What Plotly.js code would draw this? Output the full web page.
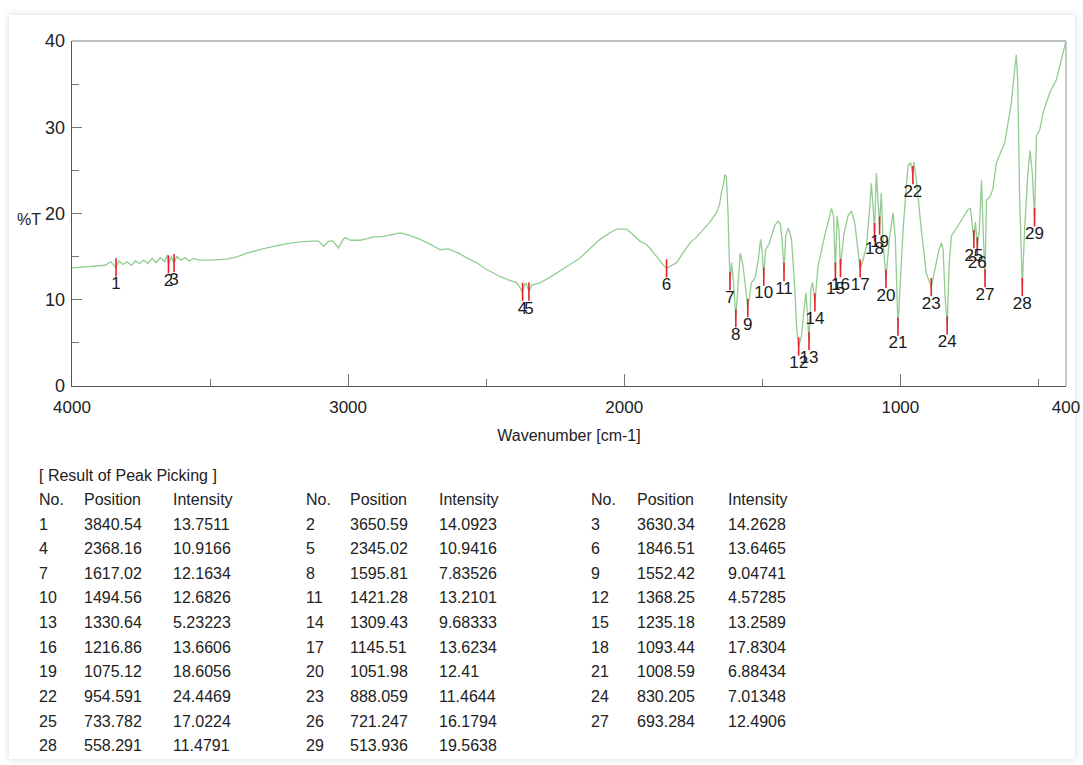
<!DOCTYPE html>
<html>
<head>
<meta charset="utf-8">
<script src="https://cdn.plot.ly/plotly-3.0.1.min.js"></script>
<style>
  html, body { margin: 0; padding: 0; background: #ffffff; }
  #frame { position: absolute; left: 9px; top: 15px; width: 1066px; height: 744px;
           box-shadow: 0 0 7px rgba(0,0,0,0.16); background: #ffffff; }
  #chart { position: absolute; left: 0; top: 0; width: 1083px; height: 765px; }
</style>
</head>
<body>
<div id="frame"></div>
<div id="chart"></div>
<script>
// ---- Spectrum (wavenumber in cm-1, %T) ----
const wavenumber = [
  4000, 3960, 3920, 3880, 3860, 3850, 3840.54, 3830, 3815, 3800, 3785, 3770, 3755, 3740, 3725, 3710,
  3695, 3680, 3665, 3655, 3650.59, 3640, 3630.34, 3620, 3605, 3590, 3575, 3560, 3540, 3500, 3470, 3439,
  3400, 3367, 3320, 3270, 3220, 3174, 3130, 3107, 3089, 3070, 3055, 3035, 3020, 3011, 2990, 2957,
  2930, 2908, 2880, 2850, 2812, 2780, 2739, 2700, 2667, 2637, 2600, 2570, 2530, 2498, 2450, 2420,
  2389, 2368.16, 2360, 2355, 2345.02, 2335, 2305, 2270, 2233, 2200, 2160, 2120, 2088, 2050, 2027, 1991,
  1967, 1950, 1943, 1920, 1907, 1890, 1871, 1855, 1846.51, 1830, 1810, 1790, 1762, 1740, 1714, 1690,
  1666, 1655, 1648, 1640, 1636, 1630, 1624, 1620, 1617.02, 1611, 1604, 1595.81, 1588, 1580, 1570, 1560,
  1552.42, 1539, 1533, 1525, 1515, 1506, 1500, 1494.56, 1488, 1475, 1467, 1455, 1443, 1435, 1428, 1421.28,
  1415, 1406, 1400, 1394, 1382, 1375, 1368.25, 1358, 1350, 1342, 1336, 1330.64, 1324, 1318, 1309.43, 1298,
  1274, 1249, 1242, 1235.18, 1229, 1222, 1216.86, 1205, 1190, 1177, 1165, 1155, 1145.51, 1135, 1123, 1110,
  1105, 1098, 1093.44, 1087, 1080, 1075.12, 1069, 1062, 1051.98, 1040, 1026, 1018, 1008.59, 998, 990, 980,
  972, 963, 954.591, 951, 942, 924, 906, 888.059, 875, 860, 851, 845, 838, 830.205, 823, 815,
  785, 755, 746, 733.782, 728, 721.247, 714, 706, 700, 693.284, 688, 676, 665, 652, 622, 598,
  585, 580, 575, 568, 558.291, 550, 538, 530, 522, 513.936, 507, 495, 483, 459, 435, 417, 400
];
const transmittance = [
  13.7, 13.8, 13.9, 14.0, 14.4, 14.0, 13.7511, 14.5, 14.1, 14.4, 14.0, 14.5, 14.2, 14.6, 14.2, 14.8,
  14.3, 14.9, 14.4, 15.2, 14.0923, 15.0, 14.2628, 15.0, 14.6, 14.9, 14.5, 14.8, 14.6, 14.6, 14.65, 14.7,
  15.0, 15.4, 15.8, 16.2, 16.5, 16.7, 16.8, 16.8, 16.2, 16.8, 16.8, 16.0, 16.9, 17.2, 16.9, 16.9,
  17.1, 17.3, 17.3, 17.5, 17.75, 17.5, 17.0, 16.4, 15.8, 15.9, 15.4, 14.85, 14.2, 13.5, 12.7, 12.3,
  11.96, 10.9166, 11.8, 11.9, 10.9416, 11.7, 11.96, 12.6, 13.3, 14.0, 14.85, 16.0, 17.0, 17.8, 18.2, 18.2,
  17.55, 17.1, 16.8, 16.4, 16.0, 15.3, 14.5, 13.9, 13.6465, 13.9, 14.3, 15.3, 16.6, 17.2, 18.1, 19.0,
  20.1, 21.0, 22.4, 23.5, 24.5, 24.2, 20.0, 15.0, 12.1634, 14.3, 12.0, 7.83526, 12.0, 15.4, 14.0, 11.0,
  9.04741, 12.0, 12.2, 12.7, 14.5, 17.0, 15.5, 12.6826, 15.8, 16.5, 17.4, 18.6, 19.1, 18.8, 17.0, 13.2101,
  17.4, 18.3, 17.8, 17.0, 11.2, 6.5, 4.57285, 5.8, 8.5, 10.8, 8.0, 5.23223, 11.2, 12.0, 9.68333, 13.9,
  17.4, 20.6, 19.7, 13.2589, 19.7, 18.0, 13.6606, 17.5, 19.7, 20.3, 18.9, 16.0, 13.6234, 14.6, 16.2, 21.0,
  23.5, 20.5, 17.8304, 24.7, 21.5, 18.6056, 22.4, 16.5, 12.41, 17.0, 20.1, 17.0, 6.88434, 14.0, 18.1, 22.5,
  25.5, 25.9, 24.4469, 26.0, 23.9, 18.1, 13.1, 11.4644, 13.5, 15.8, 16.6, 15.8, 10.4, 7.01348, 14.3, 17.4,
  18.9, 20.45, 20.6, 17.0224, 19.0, 16.1794, 18.0, 23.9, 18.0, 12.4906, 21.6, 21.9, 22.8, 25.9, 28.2, 32.8,
  37.0, 38.4, 35.5, 22.0, 11.4791, 18.1, 24.7, 27.3, 24.7, 19.5638, 28.95, 29.7, 31.7, 34.0, 35.5, 37.8, 40.0
];

// ---- Peak picking result ----
const peakNo = [1,2,3,4,5,6,7,8,9,10,11,12,13,14,15,16,17,18,19,20,21,22,23,24,25,26,27,28,29];
const peakPosition = ["3840.54","3650.59","3630.34","2368.16","2345.02","1846.51","1617.02","1595.81","1552.42",
  "1494.56","1421.28","1368.25","1330.64","1309.43","1235.18","1216.86","1145.51","1093.44","1075.12",
  "1051.98","1008.59","954.591","888.059","830.205","733.782","721.247","693.284","558.291","513.936"];
const peakIntensity = ["13.7511","14.0923","14.2628","10.9166","10.9416","13.6465","12.1634","7.83526","9.04741",
  "12.6826","13.2101","4.57285","5.23223","9.68333","13.2589","13.6606","13.6234","17.8304","18.6056",
  "12.41","6.88434","24.4469","11.4644","7.01348","17.0224","16.1794","12.4906","11.4791","19.5638"];

const xTickVals = [4000, 3000, 2000, 1000, 400];
const yTickVals = [0, 10, 20, 30, 40];
const tableTitle = "[ Result of Peak Picking ]";
const tableHeaders = ["No.", "Position", "Intensity"];

const FONT = "Arial, 'Liberation Sans', sans-serif";

const spectrum = {
  x: wavenumber, y: transmittance, type: 'scatter', mode: 'lines',
  line: {color: 'rgb(146,204,146)', width: 1.3}, hoverinfo: 'skip'
};
const peaks = {
  x: peakPosition.map(Number), y: peakIntensity.map(Number), type: 'scatter', mode: 'markers+text',
  marker: {symbol: 'line-ns', size: 13, color: '#e8202a', line: {color: '#e8202a', width: 1.6}},
  text: peakNo.map(String), textposition: 'bottom center',
  textfont: {family: FONT, size: 17, color: '#1a1a1a'}, hoverinfo: 'skip', cliponaxis: false
};

// ---- table as annotations (paper coords computed from pixel layout) ----
const L = 72, T = 41, W = 994, H = 345;
const px = v => (v - L) / W;
const py = v => (T + H - v) / H;
const annotations = [];
function addText(text, x, y) {
  annotations.push({text: text, x: px(x), y: py(y), xref: 'paper', yref: 'paper',
    xanchor: 'left', yanchor: 'middle', showarrow: false,
    font: {family: FONT, size: 16, color: '#222'}});
}
addText(tableTitle, 37, 475);
const groupX = [[37, 82, 171], [304, 348, 437], [589, 635, 726]];
const rowY0 = 524, rowDy = 24.65;
groupX.forEach(g => {
  tableHeaders.forEach((h, k) => addText(h, g[k], 499));
});
for (let i = 0; i < peakNo.length; i++) {
  const g = groupX[i % 3];
  const r = Math.floor(i / 3);
  const y = rowY0 + r * rowDy;
  addText(String(peakNo[i]), g[0], y);
  addText(peakPosition[i], g[1], y);
  addText(peakIntensity[i], g[2], y);
}
// %T label
annotations.push({text: '%T', x: px(29), y: 19.3, xref: 'paper', yref: 'y', xanchor: 'center', yanchor: 'middle',
  showarrow: false, font: {family: FONT, size: 16, color: '#222'}});

const layout = {
  width: 1083, height: 765,
  margin: {l: L, r: 1083 - L - W, t: T, b: 765 - T - H},
  paper_bgcolor: 'rgba(0,0,0,0)', plot_bgcolor: '#ffffff',
  showlegend: false,
  font: {family: FONT, color: '#222'},
  xaxis: {
    range: [4000, 400], autorange: false, tickvals: xTickVals, ticktext: xTickVals.map(String),
    ticks: 'inside', ticklen: 12, tickwidth: 1, tickcolor: '#777',
    minor: {tickvals: [3500, 2500, 1500, 500], ticks: 'inside', ticklen: 7, tickcolor: '#777', showgrid: false},
    showgrid: false, zeroline: false, showline: true, linecolor: '#555', linewidth: 1.3,
    tickfont: {family: FONT, size: 17, color: '#222'}, ticklabelstandoff: 5,
    title: {text: 'Wavenumber [cm-1]', font: {family: FONT, size: 16, color: '#222'}, standoff: 14}
  },
  yaxis: {
    range: [0, 40], autorange: false, tickvals: yTickVals, ticktext: yTickVals.map(String),
    ticks: 'inside', ticklen: 10, tickwidth: 1, tickcolor: '#777',
    minor: {tickvals: [5, 15, 25, 35], ticks: 'inside', ticklen: 7, tickcolor: '#777', showgrid: false},
    showgrid: false, zeroline: false, showline: true, linecolor: '#555', linewidth: 1.3,
    tickfont: {family: FONT, size: 18, color: '#222'}, ticklabelstandoff: 2
  },
  shapes: [
    {type: 'line', xref: 'paper', yref: 'paper', x0: 0, x1: 1, y0: 1, y1: 1, line: {color: '#aaa', width: 1.3}},
    {type: 'line', xref: 'paper', yref: 'paper', x0: 1, x1: 1, y0: 0, y1: 1, line: {color: '#aaa', width: 1.3}}
  ],
  annotations: annotations
};

Plotly.newPlot('chart', [spectrum, peaks], layout, {staticPlot: true, displayModeBar: false});
</script>
</body>
</html>
